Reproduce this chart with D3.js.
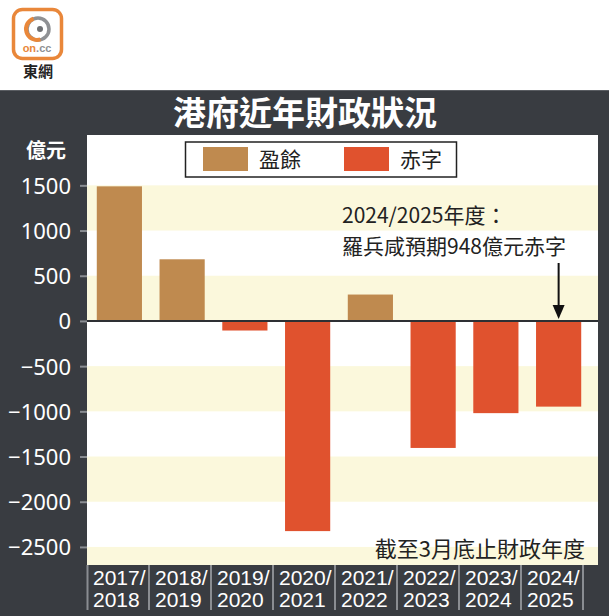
<!DOCTYPE html>
<html><head><meta charset="utf-8">
<script src="https://cdn.jsdelivr.net/npm/d3@7/dist/d3.min.js"></script>
<style>
html,body{margin:0;padding:0;background:#fff;}
svg{display:block;}
</style></head>
<body>
<script>
const years = ["2017/2018","2018/2019","2019/2020","2020/2021","2021/2022","2022/2023","2023/2024","2024/2025"];
const balance = [1489, 682, -106, -2325, 292, -1405, -1020, -948];
const yTicks = [1500, 1000, 500, 0, -500, -1000, -1500, -2000, -2500];
const stripes = [[1000,1500],[0,500],[-1000,-500],[-2000,-1500],[-2700,-2500]];
const legendItems = ["盈餘","赤字"];

(function(){
const W = 609, H = 616;
const C = {dark:"#393c41", surplus:"#bf8a4f", deficit:"#e0522e", stripe:"#fbf8dc", grid:"#8a8d92"};
const cjk = "'Noto Sans CJK TC','Noto Sans CJK SC',sans-serif";
const num = "'Noto Sans','Liberation Sans',sans-serif";

const svg = d3.select("body").append("svg").attr("width", W).attr("height", H);

// background
svg.append("rect").attr("x",0).attr("y",0).attr("width",W).attr("height",H).attr("fill","#fff");
svg.append("rect").attr("x",0).attr("y",90).attr("width",W).attr("height",H-90).attr("fill",C.dark);
svg.append("line").attr("x1",0).attr("x2",W).attr("y1",90.5).attr("y2",90.5).attr("stroke","#5a5d62").attr("stroke-width",1);

// logo
const logo = svg.append("g");
logo.append("rect").attr("x",13.5).attr("y",9.5).attr("width",48).attr("height",49).attr("rx",9)
  .attr("fill","#fff").attr("stroke","#e9873a").attr("stroke-width",3.5);
logo.append("circle").attr("cx",38).attr("cy",29).attr("r",11).attr("fill","none").attr("stroke","#8f9194").attr("stroke-width",3.5);
logo.append("path").attr("d",d3.arc()({innerRadius:9,outerRadius:13,startAngle:Math.PI*0.9,endAngle:Math.PI*1.9}))
  .attr("transform","translate(37,29)").attr("fill","#e9873a");
logo.append("circle").attr("cx",40).attr("cy",29).attr("r",3).attr("fill","#6f7174");
logo.append("text").attr("x",37).attr("y",52).attr("text-anchor","middle")
  .style("font-family","'Liberation Sans',Arial,sans-serif").style("font-weight","bold").style("font-size","11px")
  .html('<tspan fill="#e9873a">on</tspan><tspan fill="#8f9194">.cc</tspan>');
logo.append("text").attr("x",38).attr("y",77).attr("text-anchor","middle")
  .style("font-family",cjk).style("font-weight","bold").style("font-size","15px").attr("fill","#222").text("東網");

// title
svg.append("text").attr("x",305).attr("y",125).attr("text-anchor","middle")
  .style("font-family",cjk).style("font-weight","bold").style("font-size","33px").attr("fill","#fff")
  .text("港府近年財政狀況");
svg.append("text").attr("x",46).attr("y",158).attr("text-anchor","middle")
  .style("font-family",cjk).style("font-weight","bold").style("font-size","20px").attr("fill","#fff")
  .text("億元");

// plot area
const pL = 87, pR = 598, pT = 135, pB = 565;
const y = d3.scaleLinear().domain([-2700, 2057]).range([pB, pT]);
const x = d3.scaleBand().domain(years).range([88, 590]).paddingInner(0.28).paddingOuter(0.14);
const xl = d3.scaleBand().domain(years).range([87, 583]);

svg.append("rect").attr("x",pL).attr("y",pT).attr("width",pR-pL).attr("height",pB-pT).attr("fill","#fff");
svg.append("g").selectAll("rect").data(stripes).join("rect")
  .attr("x",pL).attr("width",pR-pL)
  .attr("y",d=>y(d[1])).attr("height",d=>y(d[0])-y(d[1])).attr("fill",C.stripe);

// y axis
const yAxis = d3.axisLeft(y).tickValues(yTicks).tickSize(7).tickPadding(9).tickFormat(d3.format("d"));
const ya = svg.append("g").attr("transform",`translate(${pL},0)`).call(yAxis);
ya.select(".domain").remove();
ya.selectAll(".tick line").attr("stroke",C.grid).attr("stroke-width",2);
ya.selectAll(".tick text").attr("fill","#fff").style("font-family",num).style("font-size","22px")
  .attr("dy","0.36em");

// bars
svg.append("g").selectAll("rect").data(years).join("rect")
  .attr("x",d=>x(d)).attr("width",x.bandwidth())
  .attr("y",(d,i)=>y(Math.max(0,balance[i])))
  .attr("height",(d,i)=>Math.abs(y(balance[i])-y(0)))
  .attr("fill",(d,i)=>balance[i]>=0?C.surplus:C.deficit);

// zero line
svg.append("line").attr("x1",pL).attr("x2",pR).attr("y1",y(0)).attr("y2",y(0))
  .attr("stroke","#2e3034").attr("stroke-width",2);

// x axis labels
const xa = svg.append("g");
xa.append("line").attr("x1",pL+0.5).attr("x2",pL+0.5).attr("y1",pB).attr("y2",610).attr("stroke",C.grid).attr("stroke-width",2);
xa.selectAll("line.sep").data(years).join("line").attr("class","sep")
  .attr("x1",d=>xl(d)+xl.bandwidth()).attr("x2",d=>xl(d)+xl.bandwidth())
  .attr("y1",pB).attr("y2",610).attr("stroke",C.grid).attr("stroke-width",2);
years.forEach(yr=>{
  const [a,b] = yr.split("/");
  const x0 = xl(yr)+xl.bandwidth()/2 - 25;
  const t = xa.append("text").style("font-family","'Liberation Sans',Arial,sans-serif")
    .style("font-size","21px").attr("fill","#fff");
  t.append("tspan").attr("x",x0).attr("y",585).text(a+"/");
  t.append("tspan").attr("x",x0).attr("y",607).text(b);
});

// legend
const lg = svg.append("g");
lg.append("rect").attr("x",185.5).attr("y",142).attr("width",271).attr("height",35)
  .attr("fill","#fff").attr("stroke","#222").attr("stroke-width",1.5);
[C.surplus, C.deficit].forEach((c,i)=>{
  const ox = 203 + i*141;
  lg.append("rect").attr("x",ox).attr("y",147).attr("width",45).attr("height",24).attr("fill",c);
  lg.append("text").attr("x",ox+56).attr("y",167).style("font-family",cjk).style("font-size","21px")
    .attr("fill","#222").text(legendItems[i]);
});

// annotation
const ann = svg.append("text").style("font-family",cjk).style("font-size","21px").attr("fill","#222");
ann.append("tspan").attr("x",342).attr("y",223).text("2024/2025年度：");
ann.append("tspan").attr("x",342).attr("y",254).text("羅兵咸預期948億元赤字");
const ax = x(years[7]) + x.bandwidth()/2;
svg.append("line").attr("x1",ax).attr("x2",ax).attr("y1",263).attr("y2",306).attr("stroke","#111").attr("stroke-width",2);
svg.append("path").attr("d",`M${ax-6},${305} L${ax+6},${305} L${ax},${319} Z`).attr("fill","#111");

svg.append("text").attr("x",585).attr("y",557).attr("text-anchor","end")
  .style("font-family",cjk).style("font-size","22px").attr("fill","#222")
  .text("截至3月底止財政年度");
})();
</script>
</body></html>
